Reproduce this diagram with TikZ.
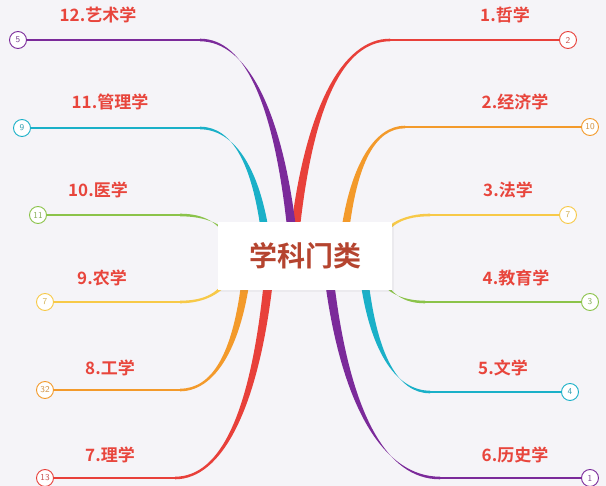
\documentclass[tikz,border=0pt]{standalone}
\usepackage{fontspec}
\usetikzlibrary{shadows}
\newfontfamily\cjk{Noto Sans CJK SC Bold}
\definecolor{bg}{HTML}{F5F4F8}
\definecolor{cr}{HTML}{E8403A}
\definecolor{cp}{HTML}{7B2A9A}
\definecolor{cc}{HTML}{1AB0C8}
\definecolor{co}{HTML}{F39A2B}
\definecolor{cy}{HTML}{F7C948}
\definecolor{cg}{HTML}{8BC34A}
\definecolor{ctext}{HTML}{E8453C}
\definecolor{cmain}{HTML}{B5442F}
\tikzset{
  lab/.style={font=\cjk\fontsize{17}{19}\selectfont, text=ctext, inner sep=0},
  endc/.style={circle, draw=#1, fill=white, line width=0.9pt, minimum size=17pt, inner sep=0, font=\sffamily\fontsize{9}{10}\selectfont, text=#1!70!gray},
}
\begin{document}
\begin{tikzpicture}[x=1pt,y=-1pt]
\fill[bg] (0,0) rectangle (606,486);
\useasboundingbox (0,0) rectangle (606,486);
% color, sx, sy, bx, by, circle x, number, start halfwidth
\foreach \c/\sx/\sy/\bx/\by/\cx/\n/\w [count=\i] in {
  cr/295/232/390/40/568/2/4.5,
  co/345/232/405/127/590/10/4,
  cy/380/240/430/215/568/7/3,
  cg/380/275/425/302/590/3/3,
  cc/365/285/430/392/570/4/4,
  cp/330/285/440/478/590/1/4.5,
  cp/292/232/200/40/18/5/4.5,
  cc/265/232/200/128/22/9/4,
  cg/230/240/180/215/38/11/3,
  cy/230/275/180/302/45/7/3,
  co/245/285/180/390/45/32/4,
  cr/268/285/175/478/45/13/4.5}{
  \pgfmathsetmacro\ax{\sx+0.15*(\bx-\sx)}
  \pgfmathsetmacro\ay{\sy+0.65*(\by-\sy)}
  \pgfmathsetmacro\bbx{\sx+0.5*(\bx-\sx)}
  \pgfmathsetmacro\axl{\ax-0.8*\w}
  \pgfmathsetmacro\axr{\ax+0.8*\w}
  \pgfmathsetmacro\sl{\sx-\w}
  \pgfmathsetmacro\sr{\sx+\w}
  \pgfmathsetmacro\bu{\by-1.3}
  \pgfmathsetmacro\bd{\by+1.3}
  \fill[\c] (\sl,\sy) .. controls (\axl,\ay) and (\bbx,\bu) .. (\bx,\bu)
     -- (\bx,\bd) .. controls (\bbx,\bd) and (\axr,\ay) .. (\sr,\sy) -- cycle;
  \coordinate (b\i) at (\bx,\by);
  \node[endc=\c] (e\i) at (\cx,\by) {\n};
  \draw[\c, line width=2.6pt] (b\i) -- (e\i);
}
\node[lab] (l1) at (505,15) {1.哲学};
\node[lab] (l2) at (515,102) {2.经济学};
\node[lab] (l3) at (508,190) {3.法学};
\node[lab] (l4) at (516,278) {4.教育学};
\node[lab] (l5) at (503,368) {5.文学};
\node[lab] (l6) at (515,455) {6.历史学};
\node[lab] (l12) at (98,15) {12.艺术学};
\node[lab] (l11) at (110,102) {11.管理学};
\node[lab] (l10) at (98,190) {10.医学};
\node[lab] (l9) at (102,278) {9.农学};
\node[lab] (l8) at (110,368) {8.工学};
\node[lab] (l7) at (110,455) {7.理学};
\node[fill=white, minimum width=174pt, minimum height=68pt, font=\cjk\fontsize{28}{32}\selectfont, text=cmain, drop shadow={opacity=0.08}] (center) at (305,256) {学科门类};
\end{tikzpicture}
\end{document}
